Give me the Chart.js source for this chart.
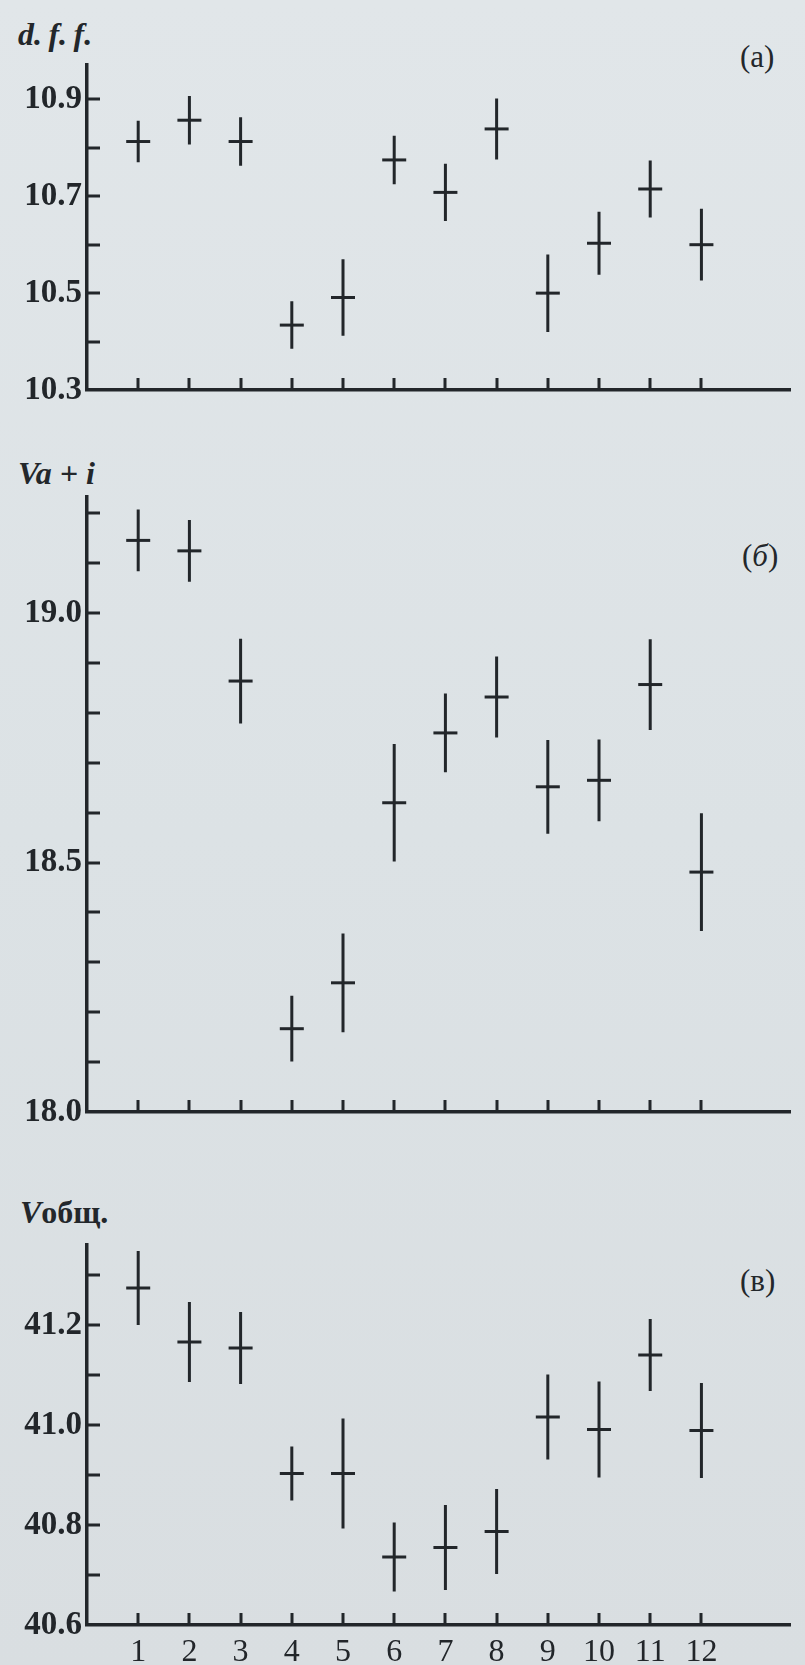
<!DOCTYPE html>
<html>
<head>
<meta charset="utf-8">
<script src="https://cdn.jsdelivr.net/npm/chart.js@4.4.0/dist/chart.umd.min.js"></script>
<style>
  html, body { margin: 0; padding: 0; }
  body {
    width: 805px; height: 1665px; position: relative; overflow: hidden;
    background: linear-gradient(180deg, #e1e6e9 0%, #dce2e5 50%, #d9dee1 100%);
    font-family: "Liberation Serif", "DejaVu Serif", serif; color: #23272b;
  }
  canvas { position: absolute; left: 0; }
  .lbl { position: absolute; line-height: 1; white-space: nowrap; }
  .ax { font-size: 32px; font-weight: bold; }
  .tag { font-size: 31px; }
</style>
</head>
<body>
<div class="lbl ax" style="left:18px; top:18px;"><i>d.&thinsp;f.&thinsp;f.</i></div>
<div class="lbl tag" style="left:740px; top:41px;">(a)</div>
<canvas id="chartA" width="805" height="355"></canvas>

<div class="lbl ax" style="left:18px; top:457px;"><i>Va + i</i></div>
<div class="lbl tag" style="left:742px; top:540px;">(<i>б</i>)</div>
<canvas id="chartB" width="805" height="645"></canvas>

<div class="lbl ax" style="left:20px; top:1196px;"><i>V</i>общ.</div>
<div class="lbl tag" style="left:740px; top:1265px;">(в)</div>
<canvas id="chartC" width="805" height="435"></canvas>

<script>
// observation numbers (x axis)
const obsNumbers = [1, 2, 3, 4, 5, 6, 7, 8, 9, 10, 11, 12];

// (a) d.f.f.
const dffValues = [10.813, 10.857, 10.813, 10.434, 10.491, 10.775, 10.708, 10.839, 10.500, 10.603, 10.715, 10.600];
const dffErrors = [0.043, 0.050, 0.050, 0.049, 0.079, 0.050, 0.059, 0.063, 0.080, 0.065, 0.059, 0.074];
const dffTicks = [10.3, 10.5, 10.7, 10.9];

// (б) Va + i
const vaiValues = [19.146, 19.125, 18.864, 18.167, 18.259, 18.620, 18.760, 18.832, 18.652, 18.665, 18.857, 18.481];
const vaiErrors = [0.062, 0.062, 0.085, 0.066, 0.099, 0.118, 0.079, 0.081, 0.094, 0.082, 0.091, 0.118];
const vaiTicks = [18.0, 18.5, 19.0];

// (в) V общ.
const vtotValues = [41.274, 41.166, 41.154, 40.903, 40.903, 40.736, 40.755, 40.787, 41.016, 40.991, 41.140, 40.989];
const vtotErrors = [0.074, 0.080, 0.072, 0.054, 0.110, 0.069, 0.085, 0.085, 0.085, 0.096, 0.072, 0.095];
const vtotTicks = [40.6, 40.8, 41.0, 41.2];

const INK = '#22262a';

// tick marks point into the plot, like the printed figure
const innerTicks = {
  id: 'innerTicks',
  afterDraw(chart, args, opts) {
    const ctx = chart.ctx;
    const area = chart.chartArea;
    const xs = chart.scales.x, ys = chart.scales.y;
    ctx.save();
    ctx.strokeStyle = INK;
    ctx.lineWidth = 3;
    ctx.beginPath();
    for (let v = ys.min + opts.yStep; v < ys.max - 1e-6; v += opts.yStep) {
      const py = Math.round(ys.getPixelForValue(v));
      ctx.moveTo(area.left, py);
      ctx.lineTo(area.left + 13, py);
    }
    obsNumbers.forEach(n => {
      const px = Math.round(xs.getPixelForValue(n));
      ctx.moveTo(px, area.bottom);
      ctx.lineTo(px, area.bottom - 12);
    });
    ctx.stroke();
    ctx.restore();
  }
};

function makePanel(id, areaTop, areaBottom, yMin, yMax, values, errors, yTicks, showX) {
  const xh = showX ? 40 : 5;
  const canvas = document.getElementById(id);
  canvas.style.top = (areaTop - 10) + 'px';
  canvas.height = 10 + (areaBottom - areaTop) + xh;

  const bars = [];
  obsNumbers.forEach((n, i) => {
    bars.push({ x: n, y: values[i] - errors[i] });
    bars.push({ x: n, y: values[i] + errors[i] });
    bars.push({ x: n, y: null });
  });
  const centers = obsNumbers.map((n, i) => ({ x: n, y: values[i] }));

  return new Chart(canvas.getContext('2d'), {
    type: 'scatter',
    data: {
      datasets: [
        {
          data: bars, showLine: true, spanGaps: false,
          borderColor: INK, borderWidth: 3, pointRadius: 0, clip: false
        },
        {
          data: centers, pointStyle: 'line', pointRadius: 12,
          borderColor: INK, borderWidth: 3, clip: false
        }
      ]
    },
    options: {
      responsive: false,
      animation: false,
      devicePixelRatio: 1,
      layout: { padding: { top: 10, right: 0, bottom: 0, left: 0 } },
      plugins: {
        legend: { display: false },
        tooltip: { enabled: false },
        innerTicks: { yStep: 0.1 }
      },
      scales: {
        x: {
          type: 'linear', min: 0, max: 13.73,
          grid: { display: false, drawTicks: false },
          border: { display: true, color: INK, width: 3.5 },
          ticks: {
            display: showX, color: INK, padding: 8,
            font: { family: 'Liberation Serif', size: 32 }
          },
          afterBuildTicks: s => { s.ticks = obsNumbers.map(v => ({ value: v })); },
          afterFit: s => { s.height = xh; s.paddingLeft = 0; s.paddingRight = 0; }
        },
        y: {
          min: yMin, max: yMax,
          grid: { display: false, drawTicks: false },
          border: { display: true, color: INK, width: 3.5 },
          ticks: {
            color: INK, padding: 5,
            font: { family: 'Liberation Serif', size: 33, weight: 'bold' },
            callback: v => v.toFixed(1)
          },
          afterBuildTicks: s => { s.ticks = yTicks.map(v => ({ value: v })); },
          afterFit: s => { s.width = 87; s.paddingTop = 0; s.paddingBottom = 0; }
        }
      }
    },
    plugins: [innerTicks]
  });
}

makePanel('chartA', 60, 400, 10.3, 10.971, dffValues, dffErrors, dffTicks, false);
makePanel('chartB', 492, 1122, 18.0, 19.233, vaiValues, vaiErrors, vaiTicks, false);
makePanel('chartC', 1240, 1625, 40.6, 41.36, vtotValues, vtotErrors, vtotTicks, true);
</script>
</body>
</html>
